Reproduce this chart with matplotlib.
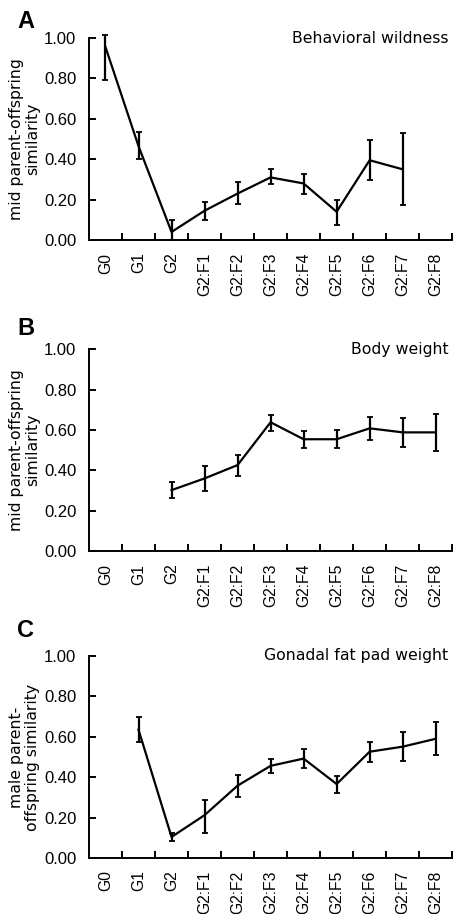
import matplotlib
matplotlib.use('Agg')
import matplotlib.pyplot as plt
import numpy as np

gens = ['G0', 'G1', 'G2', 'G2:F1', 'G2:F2', 'G2:F3', 'G2:F4', 'G2:F5',
        'G2:F6', 'G2:F7', 'G2:F8']

# A - behavioral wildness (G0..G2:F7)
a_mean = [0.955, 0.465, 0.04, 0.145, 0.23, 0.31, 0.28, 0.14, 0.395, 0.35]
a_low = [0.79, 0.40, 0.0, 0.10, 0.18, 0.275, 0.23, 0.075, 0.295, 0.175]
a_high = [1.013, 0.535, 0.10, 0.19, 0.285, 0.35, 0.325, 0.20, 0.495, 0.53]

# B - body weight (G2..G2:F8)
b_mean = [0.302, 0.36, 0.426, 0.638, 0.554, 0.554, 0.608, 0.588, 0.588]
b_low = [0.264, 0.30, 0.374, 0.597, 0.509, 0.509, 0.55, 0.516, 0.494]
b_high = [0.344, 0.42, 0.474, 0.676, 0.595, 0.60, 0.663, 0.661, 0.681]

# C - gonadal fat pad weight (G1..G2:F8)
c_mean = [0.635, 0.104, 0.212, 0.358, 0.456, 0.492, 0.366, 0.526, 0.551, 0.59]
c_low = [0.575, 0.083, 0.126, 0.302, 0.42, 0.443, 0.32, 0.474, 0.478, 0.509]
c_high = [0.698, 0.126, 0.287, 0.411, 0.489, 0.541, 0.408, 0.575, 0.622, 0.675]

panels = [
    ('A', 'Behavioral wildness', 'mid parent-offspring\nsimilarity', 0, a_mean, a_low, a_high),
    ('B', 'Body weight', 'mid parent-offspring\nsimilarity', 2, b_mean, b_low, b_high),
    ('C', 'Gonadal fat pad weight', 'male parent-\noffspring similarity', 1, c_mean, c_low, c_high),
]
bottoms = [0.7374, 0.397, 0.0613]
letter_tops = [10, 317, 619]  # pixels from top

fig = plt.figure(figsize=(4.54, 9.14), dpi=100)
tickfont = 'Liberation Sans'

for (letter, title, ylab, start, mean, low, high), bot, ltop in zip(panels, bottoms, letter_tops):
    ax = fig.add_axes([0.196, bot, 0.800, 0.221])
    x = np.arange(start, start + len(mean))
    mean = np.array(mean)
    yerr = [mean - np.array(low), np.array(high) - mean]
    ax.errorbar(x, mean, yerr=yerr, color='black', lw=1.6, elinewidth=1.6,
                capsize=2, capthick=1.3, clip_on=False)
    ax.set_xlim(-0.5, 10.5)
    ax.set_ylim(0, 1.0)
    ax.spines['top'].set_visible(False)
    ax.spines['right'].set_visible(False)
    ax.spines['left'].set_linewidth(1.4)
    ax.spines['bottom'].set_linewidth(1.4)
    ax.set_xticks(np.arange(len(gens)))
    ax.set_xticklabels(gens, rotation=90, fontsize=11.3, family=tickfont)
    ax.set_xticks(np.arange(len(gens)) + 0.5, minor=True)
    ax.tick_params(axis='x', which='major', length=0, pad=9)
    ax.tick_params(axis='x', which='minor', direction='in', length=5, width=1.4)
    ax.set_yticks(np.arange(0, 1.01, 0.2))
    ax.set_yticklabels(['%.2f' % v for v in np.arange(0, 1.01, 0.2)],
                       fontsize=12, family=tickfont)
    ax.tick_params(axis='y', direction='in', length=5, width=1.4, pad=9)
    ax.set_ylabel(ylab, fontsize=11.3, labelpad=3, linespacing=1.05)
    ax.text(0.99, 1.0, title, transform=ax.transAxes, ha='right', va='center',
            fontsize=11.3)
    fig.text(0.038, 1 - ltop / 914.0, letter, fontsize=17, fontweight='bold',
             family=tickfont, ha='left', va='top')

fig.savefig('out.png', dpi=100)
